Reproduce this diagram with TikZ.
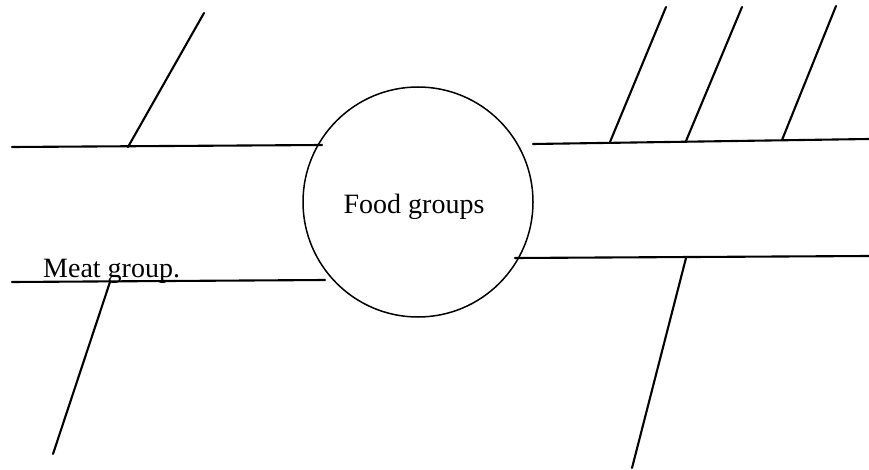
\documentclass[tikz,border=0pt]{standalone}
\usepackage{fontspec}
\setmainfont{Liberation Serif}
\begin{document}
\begin{tikzpicture}[x=1pt,y=-1pt,
  bone/.style={line width=2.1pt,line cap=round},
  hub/.style={circle,draw,line width=1.5pt,minimum size=230pt,inner sep=0pt},
  lbl/.style={font=\fontsize{28}{32}\selectfont,inner sep=0pt}]
\useasboundingbox (0,0) rectangle (869,470);
% central circle
\node[hub] (fg) at (418,202) {};
\node[lbl] (fgt) at (414,206.5) {Food groups};
% left upper
\coordinate (la1) at (12,147);
\coordinate (la2) at (322,145);
\coordinate (ld1a) at (128,147);
\coordinate (ld1b) at (204,13);
\draw[bone] (la1) -- (la2);
\draw[bone] (ld1a) -- (ld1b);
% left lower
\coordinate (lb1) at (12,282);
\coordinate (lb2) at (325,280);
\coordinate (ld2a) at (110,282);
\coordinate (ld2b) at (53,454);
\draw[bone] (lb1) -- (lb2);
\draw[bone] (ld2a) -- (ld2b);
\node[lbl,anchor=base west] (meat) at (43,277) {Meat group.};
% right upper
\coordinate (ra1) at (533,144);
\coordinate (ra2) at (869,139);
\coordinate (rd1a) at (610,142);
\coordinate (rd1b) at (666,7);
\coordinate (rd2a) at (686,141);
\coordinate (rd2b) at (742,7);
\coordinate (rd3a) at (782,140);
\coordinate (rd3b) at (836,6);
\draw[bone] (ra1) -- (ra2);
\draw[bone] (rd1a) -- (rd1b);
\draw[bone] (rd2a) -- (rd2b);
\draw[bone] (rd3a) -- (rd3b);
% right lower
\coordinate (rb1) at (515,258);
\coordinate (rb2) at (869,256);
\coordinate (rd4a) at (686,258);
\coordinate (rd4b) at (632,468);
\draw[bone] (rb1) -- (rb2);
\draw[bone] (rd4a) -- (rd4b);
\end{tikzpicture}
\end{document}
